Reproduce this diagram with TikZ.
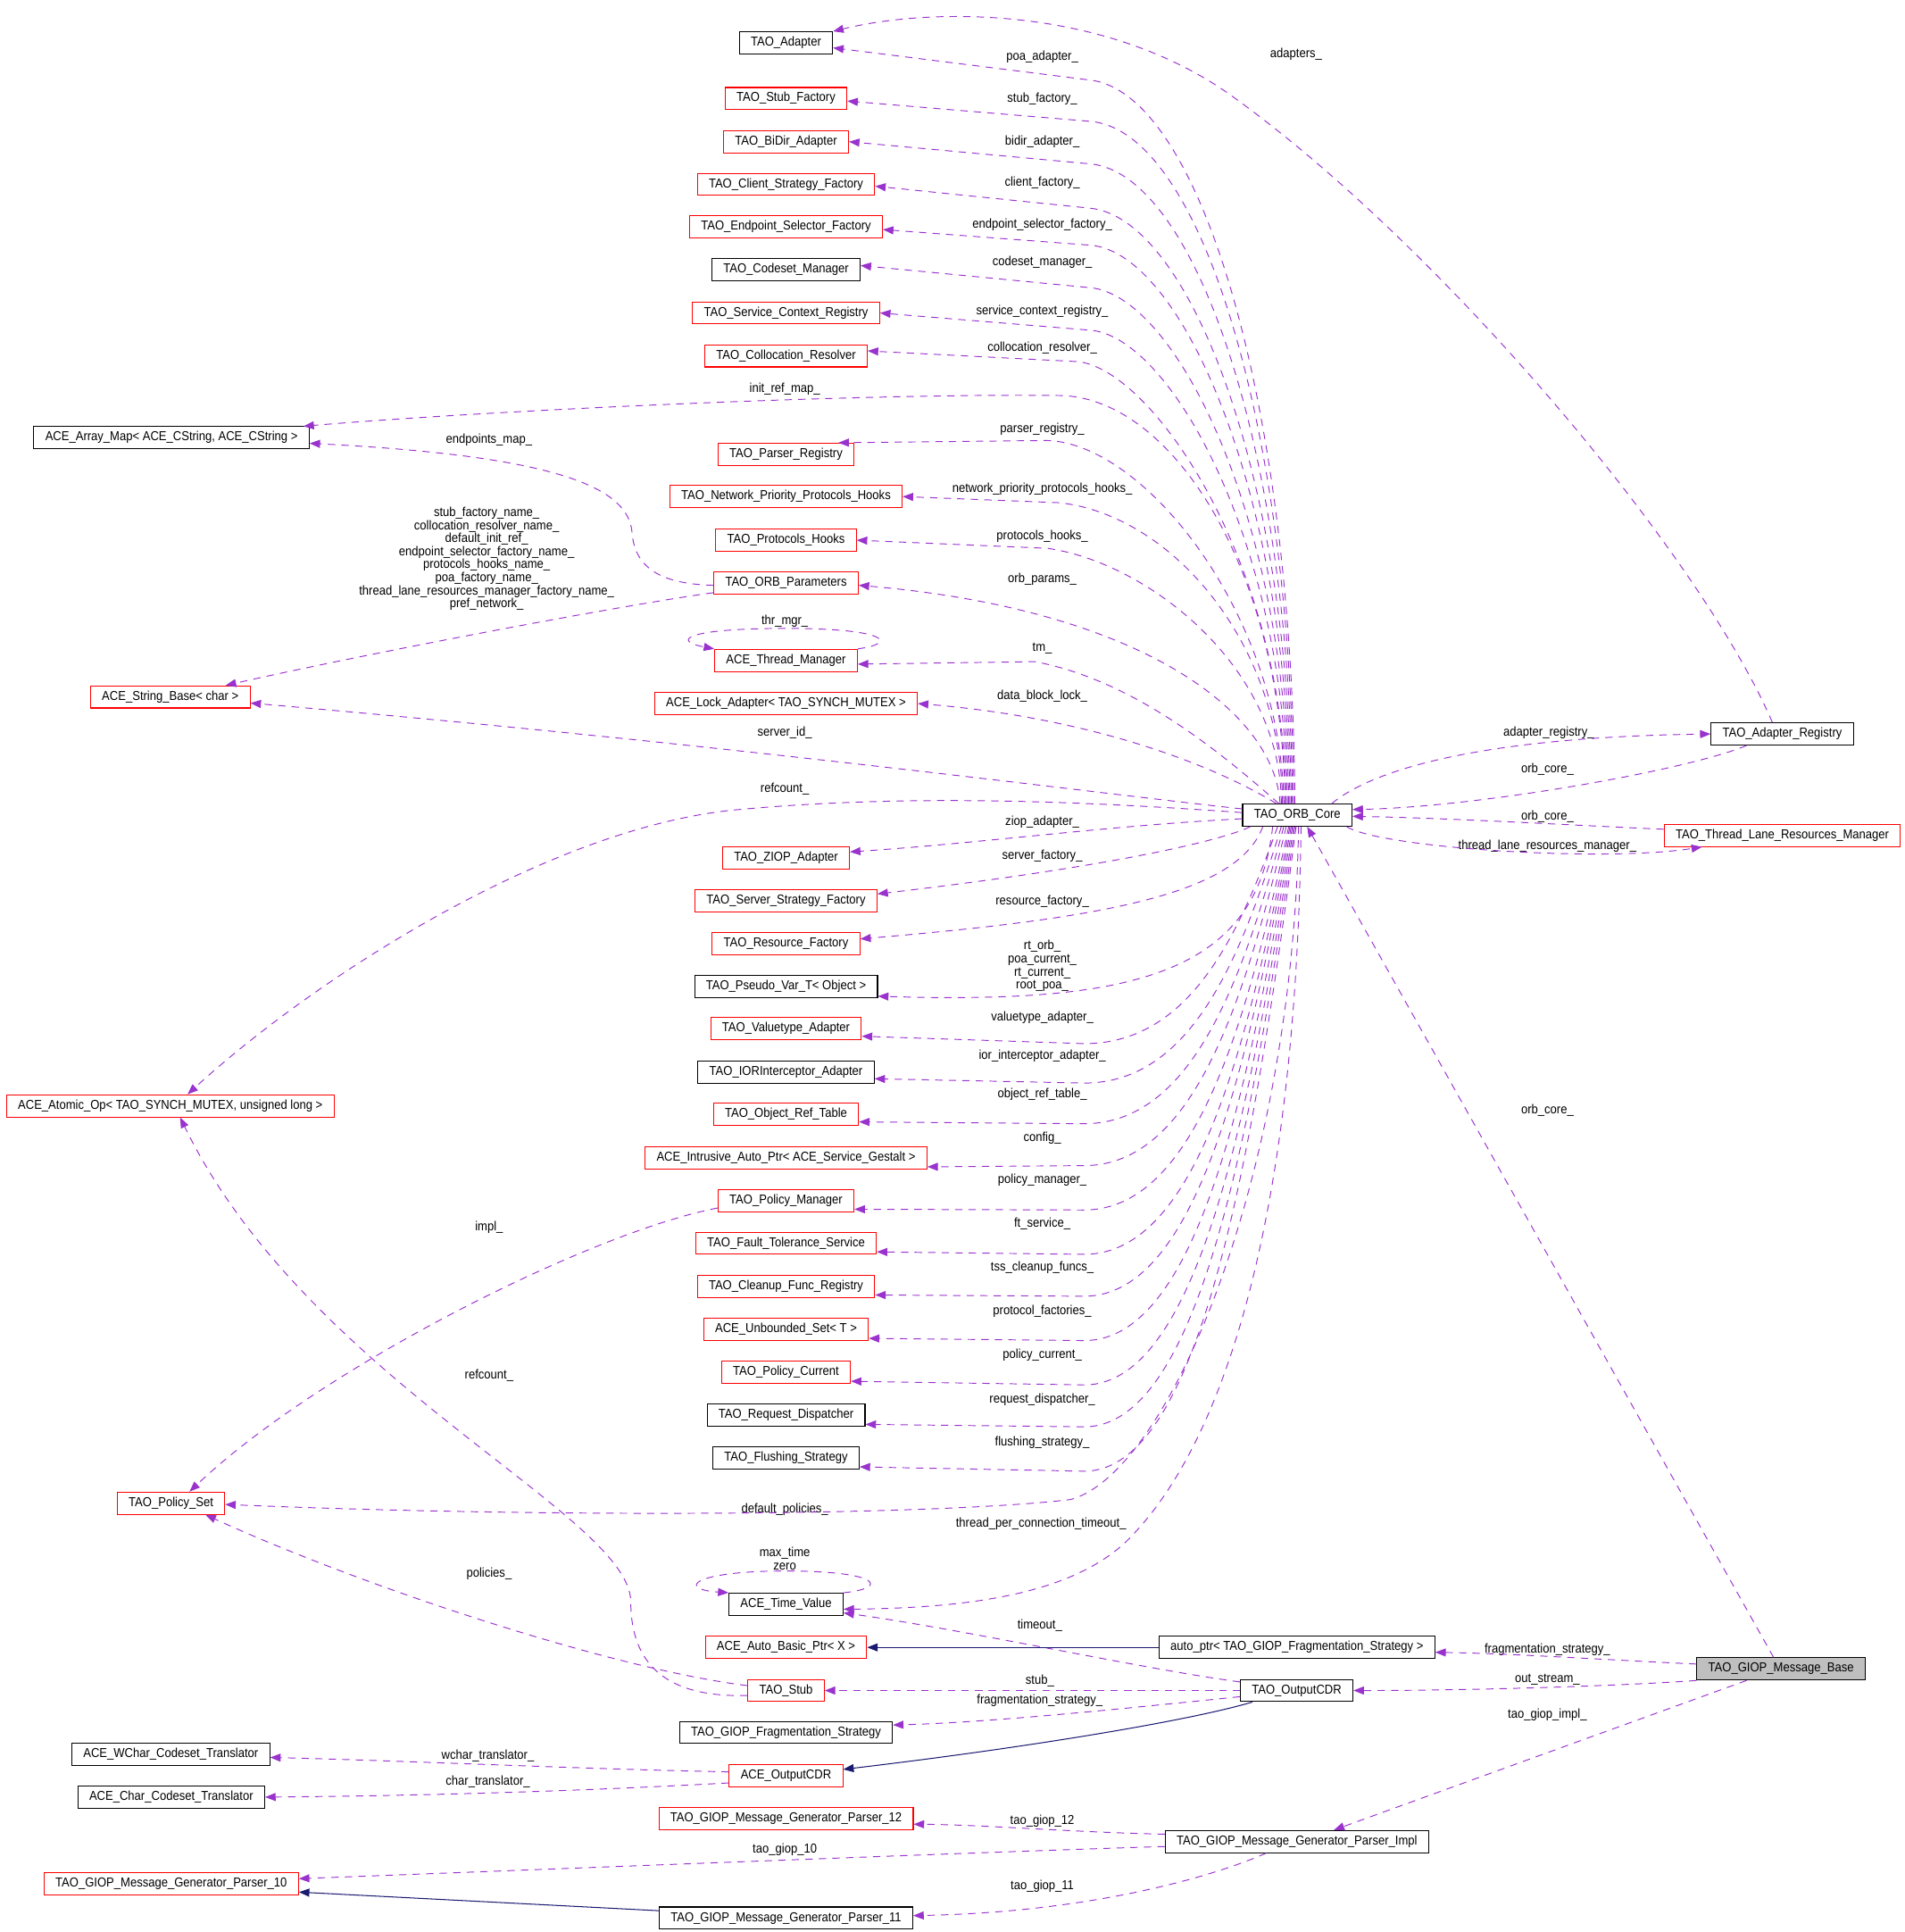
\documentclass[tikz,border=0pt]{standalone}
\usepackage{fontspec}
\newfontfamily\dxfont[FakeStretch=0.9]{Liberation Sans}
\usetikzlibrary{arrows.meta}
\definecolor{usecol}{HTML}{9A32CD}
\definecolor{inhcol}{HTML}{191970}
\definecolor{boxgray}{HTML}{BFBFBF}

\begin{document}
\begin{tikzpicture}[x=1pt, y=-1pt,
  every node/.style={font=\dxfont\fontsize{10.5}{10.6}\selectfont},
  cls/.style={draw=black, line width=0.75pt, rectangle, minimum height=18pt, inner xsep=9.3pt, inner ysep=0pt, text height=7.6pt, text depth=2.4pt},
  clsred/.style={cls, draw=red},
  member/.style={-{Triangle[length=8.5pt,width=6.5pt]}, usecol, line width=0.7pt, dash pattern=on 6pt off 5pt},
  derive/.style={-{Triangle[length=8.5pt,width=6.5pt]}, inhcol, line width=0.75pt},
  lbl/.style={inner sep=0pt, align=center}]
  \useasboundingbox (0,0) rectangle (1546,1568);

  % classes
  \node[cls] (adapter) at (638, 34.8) {TAO\_Adapter};
  \node[clsred] (stubfac) at (638, 80) {TAO\_Stub\_Factory};
  \node[clsred] (bidir) at (638, 115) {TAO\_BiDir\_Adapter};
  \node[clsred] (clientfac) at (638, 149.6) {TAO\_Client\_Strategy\_Factory};
  \node[clsred] (endpointsel) at (638, 184.3) {TAO\_Endpoint\_Selector\_Factory};
  \node[cls] (codeset) at (638, 219) {TAO\_Codeset\_Manager};
  \node[clsred] (servicectx) at (638, 254) {TAO\_Service\_Context\_Registry};
  \node[clsred] (colloc) at (638, 288.8) {TAO\_Collocation\_Resolver};
  \node[cls] (amap) at (139.2, 355.3) {ACE\_Array\_Map< ACE\_CString, ACE\_CString >};
  \node[clsred] (parser) at (638, 368.7) {TAO\_Parser\_Registry};
  \node[clsred] (netprio) at (638, 403) {TAO\_Network\_Priority\_Protocols\_Hooks};
  \node[clsred] (protohooks) at (638, 438.4) {TAO\_Protocols\_Hooks};
  \node[clsred] (params) at (638, 473) {TAO\_ORB\_Parameters};
  \node[clsred] (tmgr) at (638, 536) {ACE\_Thread\_Manager};
  \node[clsred] (sbase) at (138.2, 565.6) {ACE\_String\_Base< char >};
  \node[clsred] (lockad) at (638, 571) {ACE\_Lock\_Adapter< TAO\_SYNCH\_MUTEX >};
  \node[cls] (core) at (1053, 661.5) {TAO\_ORB\_Core};
  \node[cls] (areg) at (1446.6, 595.7) {TAO\_Adapter\_Registry};
  \node[clsred] (tlrm) at (1446.7, 678) {TAO\_Thread\_Lane\_Resources\_Manager};
  \node[clsred] (ziop) at (638, 696.4) {TAO\_ZIOP\_Adapter};
  \node[clsred] (serverfac) at (638, 731) {TAO\_Server\_Strategy\_Factory};
  \node[clsred] (resfac) at (638, 766) {TAO\_Resource\_Factory};
  \node[cls] (pseudovar) at (638, 800.5) {TAO\_Pseudo\_Var\_T< Object >};
  \node[clsred] (valuetype) at (638, 835) {TAO\_Valuetype\_Adapter};
  \node[cls] (iorinter) at (638, 870) {TAO\_IORInterceptor\_Adapter};
  \node[clsred] (atomic) at (138.2, 897.5) {ACE\_Atomic\_Op< TAO\_SYNCH\_MUTEX, unsigned long >};
  \node[clsred] (objref) at (638, 904.5) {TAO\_Object\_Ref\_Table};
  \node[clsred] (intrusive) at (638, 939.5) {ACE\_Intrusive\_Auto\_Ptr< ACE\_Service\_Gestalt >};
  \node[clsred] (polmgr) at (638, 974.4) {TAO\_Policy\_Manager};
  \node[clsred] (ftserv) at (638, 1009) {TAO\_Fault\_Tolerance\_Service};
  \node[clsred] (cleanup) at (638, 1044) {TAO\_Cleanup\_Func\_Registry};
  \node[clsred] (unbset) at (638, 1078.7) {ACE\_Unbounded\_Set< T >};
  \node[clsred] (polcur) at (638, 1113.5) {TAO\_Policy\_Current};
  \node[cls] (reqdisp) at (638, 1148.5) {TAO\_Request\_Dispatcher};
  \node[cls] (flush) at (638, 1183) {TAO\_Flushing\_Strategy};
  \node[clsred] (polset) at (138.8, 1220) {TAO\_Policy\_Set};
  \node[cls] (tval) at (638, 1302) {ACE\_Time\_Value};
  \node[clsred] (autobasic) at (638, 1337) {ACE\_Auto\_Basic\_Ptr< X >};
  \node[cls] (autoptr) at (1052.7, 1337) {auto\_ptr< TAO\_GIOP\_Fragmentation\_Strategy >};
  \node[cls, fill=boxgray] (msgbase) at (1445.6, 1354.5) {TAO\_GIOP\_Message\_Base};
  \node[clsred] (stub) at (638, 1372) {TAO\_Stub};
  \node[cls] (outcdr) at (1052.5, 1372) {TAO\_OutputCDR};
  \node[cls] (fragstrat) at (638, 1406) {TAO\_GIOP\_Fragmentation\_Strategy};
  \node[cls] (wchar) at (138.6, 1423.6) {ACE\_WChar\_Codeset\_Translator};
  \node[clsred] (acecdr) at (638, 1441) {ACE\_OutputCDR};
  \node[cls] (char) at (139, 1458.5) {ACE\_Char\_Codeset\_Translator};
  \node[clsred] (p12) at (638, 1475.8) {TAO\_GIOP\_Message\_Generator\_Parser\_12};
  \node[cls] (pimpl) at (1052.7, 1494.6) {TAO\_GIOP\_Message\_Generator\_Parser\_Impl};
  \node[clsred] (p10) at (139, 1529) {TAO\_GIOP\_Message\_Generator\_Parser\_10};
  \node[cls] (p11) at (638, 1556.7) {TAO\_GIOP\_Message\_Generator\_Parser\_11};

  % member names
  \node[lbl] (lpoa) at (846, 46) {poa\_adapter\_};
  \node[lbl] (ladapters) at (1052, 44) {adapters\_};
  \node[lbl] (lstubfac) at (846, 80) {stub\_factory\_};
  \node[lbl] (lbidir) at (846, 115) {bidir\_adapter\_};
  \node[lbl] (lclient) at (846, 148) {client\_factory\_};
  \node[lbl] (lendpoint) at (846, 182.4) {endpoint\_selector\_factory\_};
  \node[lbl] (lcodeset) at (846, 212.6) {codeset\_manager\_};
  \node[lbl] (lservice) at (846, 252.4) {service\_context\_registry\_};
  \node[lbl] (lcolloc) at (846, 282) {collocation\_resolver\_};
  \node[lbl] (linitref) at (637, 316) {init\_ref\_map\_};
  \node[lbl] (lendpoints) at (397, 357) {endpoints\_map\_};
  \node[lbl] (lparser) at (846, 348) {parser\_registry\_};
  \node[lbl] (lnetprio) at (846, 397) {network\_priority\_protocols\_hooks\_};
  \node[lbl] (lprotohooks) at (846, 435) {protocols\_hooks\_};
  \node[lbl] (lnames) at (395, 453.5) {stub\_factory\_name\_\\collocation\_resolver\_name\_\\default\_init\_ref\_\\endpoint\_selector\_factory\_name\_\\protocols\_hooks\_name\_\\poa\_factory\_name\_\\thread\_lane\_resources\_manager\_factory\_name\_\\pref\_network\_};
  \node[lbl] (lparams) at (846, 470) {orb\_params\_};
  \node[lbl] (lthrmgr) at (637, 504) {thr\_mgr\_};
  \node[lbl] (ltm) at (846, 526) {tm\_};
  \node[lbl] (llock) at (846, 565) {data\_block\_lock\_};
  \node[lbl] (lserverid) at (637, 595) {server\_id\_};
  \node[lbl] (lareg) at (1257, 595) {adapter\_registry\_};
  \node[lbl] (lcoreA) at (1256, 624) {orb\_core\_};
  \node[lbl] (lrefcountA) at (637, 640) {refcount\_};
  \node[lbl] (lcoreB) at (1256, 663) {orb\_core\_};
  \node[lbl] (lziop) at (846, 667) {ziop\_adapter\_};
  \node[lbl] (ltlrm) at (1256, 687) {thread\_lane\_resources\_manager\_};
  \node[lbl] (lserverfac) at (846, 695) {server\_factory\_};
  \node[lbl] (lresfac) at (846, 732) {resource\_factory\_};
  \node[lbl] (lpseudo) at (846, 784) {rt\_orb\_\\poa\_current\_\\rt\_current\_\\root\_poa\_};
  \node[lbl] (lvaluetype) at (846, 826) {valuetype\_adapter\_};
  \node[lbl] (lior) at (846, 857) {ior\_interceptor\_adapter\_};
  \node[lbl] (lobjref) at (846, 888.5) {object\_ref\_table\_};
  \node[lbl] (lcoreC) at (1256, 901) {orb\_core\_};
  \node[lbl] (lconfig) at (846, 924) {config\_};
  \node[lbl] (lpolmgr) at (846, 958) {policy\_manager\_};
  \node[lbl] (limpl) at (397, 996) {impl\_};
  \node[lbl] (lft) at (846, 993) {ft\_service\_};
  \node[lbl] (ltss) at (846, 1028.6) {tss\_cleanup\_funcs\_};
  \node[lbl] (lprotofac) at (846, 1064) {protocol\_factories\_};
  \node[lbl] (lpolcur) at (846, 1100) {policy\_current\_};
  \node[lbl] (lrefcountB) at (397, 1116) {refcount\_};
  \node[lbl] (lreqdisp) at (846, 1136) {request\_dispatcher\_};
  \node[lbl] (lflush) at (846, 1171) {flushing\_strategy\_};
  \node[lbl] (ldefpol) at (637, 1225) {default\_policies\_};
  \node[lbl] (ltpct) at (845, 1237) {thread\_per\_connection\_timeout\_};
  \node[lbl] (lmaxtime) at (637, 1265) {max\_time\\zero};
  \node[lbl] (lpolicies) at (397, 1277) {policies\_};
  \node[lbl] (ltimeout) at (844, 1319) {timeout\_};
  \node[lbl] (lfragA) at (1256, 1339) {fragmentation\_strategy\_};
  \node[lbl] (loutstream) at (1256, 1363) {out\_stream\_};
  \node[lbl] (lstub) at (844, 1364) {stub\_};
  \node[lbl] (lfragB) at (844, 1380) {fragmentation\_strategy\_};
  \node[lbl] (limplB) at (1256, 1392) {tao\_giop\_impl\_};
  \node[lbl] (lwchar) at (396, 1425) {wchar\_translator\_};
  \node[lbl] (lchar) at (396, 1446) {char\_translator\_};
  \node[lbl] (lg12) at (846, 1478) {tao\_giop\_12};
  \node[lbl] (lg10) at (637, 1501) {tao\_giop\_10};
  \node[lbl] (lg11) at (846, 1531) {tao\_giop\_11};

  % TAO_ORB_Core members, upper fan
  \draw[member] ([xshift=-2pt]core.north) .. controls (1049,329) and (975,76) .. (885,65) -- ([yshift=-4pt]adapter.east);
  \draw[member] ([xshift=-3pt]core.north) .. controls (1048,348) and (975,106) .. (885,98.5) -- ([yshift=-2pt]stubfac.east);
  \draw[member] ([xshift=-4pt]core.north) .. controls (1047,366) and (970,141) .. (885,133) -- (bidir.east);
  \draw[member] ([xshift=-5pt]core.north) .. controls (1046,386) and (965,177) .. (885,169) -- ([yshift=-1.5pt]clientfac.east);
  \draw[member] ([xshift=-6pt]core.north) .. controls (1045,403) and (960,205) .. (885,199) -- ([yshift=-2pt]endpointsel.east);
  \draw[member] ([xshift=-7pt]core.north) .. controls (1044,422) and (955,240) .. (885,233.5) -- ([yshift=3.5pt]codeset.east);
  \draw[member] ([xshift=-8pt]core.north) .. controls (1043,441) and (950,273) .. (885,268) -- (servicectx.east);
  \draw[member] ([xshift=-9pt]core.north) .. controls (1042,455) and (935,300) .. (875,293.5) -- ([yshift=4pt]colloc.east);
  \draw[member] ([xshift=-10pt]core.north) .. controls (1041,460) and (950,322) .. (860,321) .. controls (700,319) and (400,333) .. ([xshift=-5pt]amap.north east);
  \draw[member] ([xshift=-11pt]core.north) .. controls (1040,500) and (930,360) .. (850,357.5) -- ([xshift=-13pt]parser.north east);
  \draw[member] ([xshift=-12pt]core.north) .. controls (1040,520) and (950,418) .. (860,408) -- (netprio.east);
  \draw[member] ([xshift=-13pt]core.north) .. controls (1040,540) and (930,456) .. (850,445) -- (protohooks.east);
  \draw[member] ([xshift=-14pt]core.north) .. controls (1035,580) and (930,495) .. ([yshift=-2pt]params.east);
  \draw[member] ([xshift=-15pt]core.north) .. controls (990,610) and (920,552) .. (840,537) -- ([yshift=-3pt]tmgr.east);
  \draw[member] ([xshift=-17pt]core.north) .. controls (980,618) and (880,582) .. (lockad.east);
  \draw[member] ([yshift=5pt]core.west) .. controls (900,645) and (600,605) .. ([yshift=-5pt]sbase.east);
  \draw[member] ([yshift=2pt]core.west) .. controls (850,648) and (720,646) .. (600,657) .. controls (450,670) and (260,790) .. ([xshift=14pt]atomic.north);

  % TAO_ORB_Core members, lower fan
  \draw[member] ([yshift=-3pt]core.west) .. controls (900,670) and (800,684) .. ([yshift=5pt]ziop.east);
  \draw[member] ([xshift=-38pt]core.south) .. controls (985,685) and (880,706) .. ([yshift=5.5pt]serverfac.east);
  \draw[member] ([xshift=-28pt]core.south) .. controls (1005,725) and (900,745) .. ([yshift=4pt]resfac.east);
  \draw[member] ([xshift=-20pt]core.south) .. controls (1020,790) and (920,815) .. ([yshift=-8pt]pseudovar.east);
  \draw[member] ([xshift=-16pt]core.south) .. controls (1006,758) and (966,847) .. (880,847) -- ([yshift=-6pt]valuetype.east);
  \draw[member] ([xshift=-13pt]core.south) .. controls (1008,775) and (968,879) .. (880,879) -- ([yshift=-5.5pt]iorinter.east);
  \draw[member] ([xshift=-11pt]core.south) .. controls (1010,791) and (969,912) .. (880,912) -- ([yshift=-6pt]objref.east);
  \draw[member] ([xshift=-9pt]core.south) .. controls (1011,808) and (970,946) .. (880,946) -- ([yshift=-7.5pt]intrusive.east);
  \draw[member] ([xshift=-7pt]core.south) .. controls (1013,826) and (971,982) .. (880,982) -- ([yshift=-7pt]polmgr.east);
  \draw[member] ([xshift=-6pt]core.south) .. controls (1014,844) and (972,1018) .. (880,1018) -- ([yshift=-7pt]ftserv.east);
  \draw[member] ([xshift=-5pt]core.south) .. controls (1014,861) and (972,1052) .. (880,1052) -- ([yshift=-7pt]cleanup.east);
  \draw[member] ([xshift=-4pt]core.south) .. controls (1015,879) and (973,1088) .. (880,1088) -- ([yshift=-7.5pt]unbset.east);
  \draw[member] ([xshift=-3pt]core.south) .. controls (1016,897) and (973,1124) .. (880,1124) -- ([yshift=-7.5pt]polcur.east);
  \draw[member] ([xshift=-2pt]core.south) .. controls (1017,914) and (974,1158) .. (880,1158) -- ([yshift=-7.5pt]reqdisp.east);
  \draw[member] ([xshift=-1pt]core.south) .. controls (1018,932) and (975,1194) .. (880,1194) -- ([yshift=-7.5pt]flush.east);
  \draw[member] ([xshift=1pt]core.south) .. controls (1050,950) and (950,1195) .. (869,1217) .. controls (760,1230) and (450,1232) .. ([yshift=-1pt]polset.east);
  \draw[member] ([xshift=3pt]core.south) .. controls (1052,1000) and (990,1170) .. (921,1244) .. controls (880,1290) and (800,1305) .. ([yshift=-4pt]tval.east);

  % right hand side
  \draw[member] ([xshift=28pt]core.north) .. controls (1120,620) and (1220,598) .. (areg.west);
  \draw[member] ([xshift=-29pt]areg.south) .. controls (1370,625) and (1200,655) .. ([yshift=4.5pt]core.east);
  \draw[member] ([yshift=5pt]tlrm.west) .. controls (1280,670) and (1180,664) .. ([yshift=-1pt]core.east);
  \draw[member] ([xshift=40pt]core.south) .. controls (1120,688) and (1300,700) .. ([xshift=31pt]tlrm.south west);
  \draw[member] ([xshift=-8pt]areg.north) .. controls (1380,450) and (1170,200) .. (1000,78) .. controls (900,6) and (760,5) .. (adapter.north east);

  % TAO_ORB_Parameters, loops, policies
  \draw[member] ([yshift=-2pt]params.west) .. controls (535,474) and (515,460) .. (513,432) .. controls (510,395) and (450,370) .. ([yshift=-4.5pt]amap.east);
  \draw[member] ([yshift=-8pt]params.west) .. controls (500,492) and (300,530) .. ([xshift=45pt]sbase.north);
  \draw[member] (tmgr.north east) .. controls (730,522) and (720,510) .. (638,510) .. controls (556,510) and (545,520) .. (tmgr.north west);
  \draw[member] (tval.north east) .. controls (722,1289) and (715,1275) .. (638,1275) .. controls (560,1275) and (550,1290) .. (tval.north west);
  \draw[member] ([yshift=-6pt]polmgr.west) .. controls (480,1000) and (260,1110) .. ([xshift=15pt]polset.north);
  \draw[member] ([yshift=-4pt]stub.west) .. controls (540,1378) and (512,1350) .. (512,1300) .. controls (512,1230) and (250,1120) .. ([xshift=8pt]atomic.south);
  \draw[member] ([yshift=4pt]stub.west) .. controls (500,1355) and (300,1290) .. ([xshift=28pt]polset.south);

  % TAO_GIOP_Message_Base and friends
  \draw[member] ([xshift=-6pt]msgbase.north) -- ([xshift=8pt]core.south);
  \draw[member] ([yshift=4pt]msgbase.west) .. controls (1300,1347) and (1230,1342) .. ([yshift=-4pt]autoptr.east);
  \draw[member] (msgbase.south west) .. controls (1320,1368) and (1200,1372) .. (outcdr.east);
  \draw[member] ([xshift=-28pt]msgbase.south) -- ([xshift=30pt]pimpl.north);
  \draw[member] ([yshift=7pt]outcdr.west) .. controls (930,1355) and (780,1322) .. ([yshift=-7pt]tval.east);
  \draw[member] (outcdr.west) -- (stub.east);
  \draw[member] ([yshift=-5pt]outcdr.west) .. controls (900,1388) and (800,1398) .. ([yshift=6pt]fragstrat.east);
  \draw[derive] ([xshift=-36pt]outcdr.south) .. controls (960,1398) and (820,1420) .. ([yshift=5pt]acecdr.east);
  \draw[derive] (autoptr.west) -- (autobasic.east);
  \draw[member] ([yshift=3pt]acecdr.west) .. controls (480,1436) and (330,1429) .. ([yshift=-2.7pt]wchar.east);
  \draw[member] ([yshift=-6pt]acecdr.west) .. controls (500,1452) and (380,1457) .. (char.east);
  \draw[member] ([yshift=6pt]pimpl.west) .. controls (870,1487) and (800,1481) .. ([yshift=-4.7pt]p12.east);
  \draw[member] ([yshift=-4pt]pimpl.west) .. controls (800,1503) and (500,1515) .. ([yshift=4.3pt]p10.east);
  \draw[member] ([xshift=-25pt]pimpl.south) .. controls (980,1525) and (880,1552) .. ([yshift=2pt]p11.east);
  \draw[derive] ([yshift=6pt]p11.west) -- ([yshift=-6.6pt]p10.east);
\end{tikzpicture}
\end{document}
